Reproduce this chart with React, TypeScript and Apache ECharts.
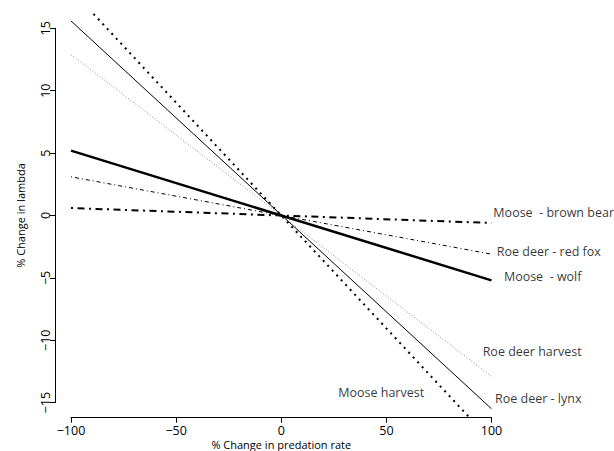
import React, { useEffect, useRef } from "react";
import * as echarts from "echarts";

// ---- data ----
const xEnds = [-100, 100];
const lynx = [15.6, -15.5];
const mooseHarvest = [18.1, -18.1];
const roeHarvest = [12.9, -12.9];
const wolf = [5.2, -5.2];
const redFox = [3.1, -3.1];
const brownBear = [0.6, -0.6];

const xTicks = [-100, -50, 0, 50, 100];
const yTicks = [-15, -10, -5, 0, 5, 10, 15];

const labelTexts = [
  "Moose  - brown bear",
  "Roe deer - red fox",
  "Moose  - wolf",
  "Roe deer harvest",
  "Roe deer - lynx",
  "Moose harvest",
];
const labelX = [100.9, 102.5, 105.9, 95.8, 101.7, 27.1];
const labelY = [0.22, -2.85, -4.93, -10.87, -14.66, -14.2];

const FONT = "'Open Sans', sans-serif";
const fmt = (v: number) => String(v).replace("-", "\u2212");

function pairs(ys: number[]) {
  return xEnds.map((x, i) => [x, ys[i]]);
}

export default function App() {
  const ref = useRef<HTMLDivElement>(null);
  useEffect(() => {
    if (!ref.current) return;
    const chart = echarts.init(ref.current, null, { renderer: "svg" });
    const axisLine = { show: true, onZero: false, lineStyle: { color: "#000", width: 1 } };
    const tick = { show: true, length: 5, lineStyle: { color: "#000", width: 1 } };
    const lineSeries = (name: string, ys: number[], style: any) => ({
      type: "line",
      name,
      xAxisIndex: 1,
      yAxisIndex: 1,
      data: pairs(ys),
      showSymbol: false,
      symbol: "none",
      clip: true,
      lineStyle: { color: "#000", width: 1, ...style },
      silent: true,
    });
    chart.setOption({
      animation: false,
      backgroundColor: "#fff",
      grid: [
        { left: 71, right: 122.5, top: 28.3, bottom: 48.3, containLabel: false, outerBoundsMode: "none" },
        { left: 54.2, right: 105.7, top: 13.5, bottom: 33.5, containLabel: false, outerBoundsMode: "none" },
      ],
      xAxis: [
        {
          type: "value",
          gridIndex: 0,
          min: -100,
          max: 100,
          interval: 50,
          offset: 15,
          axisLine,
          splitLine: { show: false },
          axisLabel: {
            color: "#000",
            fontFamily: FONT,
            fontSize: 12.5,
            margin: 6,
            formatter: (v: number) => fmt(v),
            customValues: xTicks,
          },
          axisTick: { ...tick, customValues: xTicks },
          name: "% Change in predation rate",
          nameLocation: "middle",
          nameGap: 21,
          nameMoveOverlap: false,
          nameTextStyle: { color: "#000", fontFamily: FONT, fontSize: 11 },
        },
        { type: "value", gridIndex: 1, min: -108, max: 108, show: false },
      ],
      yAxis: [
        {
          type: "value",
          gridIndex: 0,
          min: -15,
          max: 15,
          interval: 5,
          offset: 16,
          axisLine,
          splitLine: { show: false },
          axisLabel: {
            color: "#000",
            fontFamily: FONT,
            fontSize: 12.5,
            margin: 3,
            rotate: 90,
            align: "center",
            verticalAlign: "bottom",
            formatter: (v: number) => fmt(v),
            customValues: yTicks,
          },
          axisTick: { ...tick, customValues: yTicks },
          name: "% Change in lambda",
          nameLocation: "middle",
          nameGap: 29,
          nameRotate: 90,
          nameMoveOverlap: false,
          nameTextStyle: { color: "#000", fontFamily: FONT, fontSize: 11 },
        },
        { type: "value", gridIndex: 1, min: -16.2, max: 16.2, show: false },
      ],
      series: [
        lineSeries("Roe deer - lynx", lynx, { width: 1 }),
        lineSeries("Moose harvest", mooseHarvest, { width: 2, type: [2, 4.6] }),
        lineSeries("Roe deer harvest", roeHarvest, { width: 1, color: "#8a8a8a", type: [1, 2] }),
        lineSeries("Moose - wolf", wolf, { width: 2.5 }),
        lineSeries("Roe deer - red fox", redFox, { width: 1, type: [1, 3, 4, 3] }),
        lineSeries("Moose - brown bear", brownBear, { width: 2, type: [2, 4.5, 7, 4.5] }),
        {
          type: "scatter",
          xAxisIndex: 1,
          yAxisIndex: 1,
          symbolSize: 0,
          clip: false,
          silent: true,
          data: labelTexts.map((t, i) => ({ name: t, value: [labelX[i], labelY[i]] })),
          label: {
            show: true,
            position: "right",
            distance: 0,
            color: "#000",
            fontFamily: FONT,
            fontSize: 12.5,
            align: "left",
            verticalAlign: "middle",
            formatter: (p: any) => p.name,
          },
        },
      ],
    });
    return () => chart.dispose();
  }, []);
  return (
    <div
      ref={ref}
      style={{ position: "fixed", left: 0, top: 0, width: 614, height: 451, background: "#fff" }}
    />
  );
}
